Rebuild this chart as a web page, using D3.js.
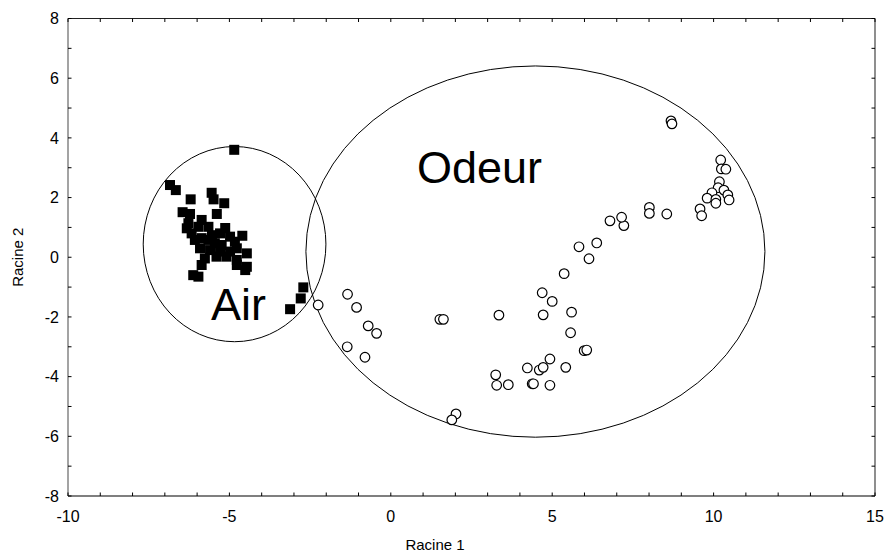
<!DOCTYPE html>
<html>
<head>
<meta charset="utf-8">
<script src="https://cdn.jsdelivr.net/npm/d3@7"></script>
<style>
  body { margin: 0; background: #fff; }
  svg { display: block; font-family: "Liberation Sans", Arial, sans-serif; }
</style>
</head>
<body>
<svg id="chart" width="887" height="556"></svg>
<script>
// ---- data ----
const xDomain = [-10, 15];
const yDomain = [-8, 8];
const xTickLabels = [-10, -5, 0, 5, 10, 15];
const yTickLabels = [-8, -6, -4, -2, 0, 2, 4, 6, 8];
const xTitle = "Racine 1";
const yTitle = "Racine 2";

// Group "Air" (filled squares)
const airX = [-4.85, -6.84, -6.66, -6.20, -5.55, -5.49, -5.16, -6.45, -6.22, -5.39,
  -6.27, -5.86, -6.32, -6.17, -5.96, -5.65, -5.29, -4.98, -4.60, -5.86,
  -5.65, -5.45, -5.24, -4.83, -5.91, -5.60, -5.29, -4.98, -4.77, -4.46,
  -5.76, -5.40, -5.09, -4.77, -5.86, -4.77, -4.46, -4.51, -6.12, -5.96,
  -5.54, -5.13, -6.07, -2.71, -2.79, -3.12];
const airY = [3.60, 2.42, 2.25, 1.94, 2.16, 1.94, 1.81, 1.51, 1.45, 1.45,
  1.14, 1.25, 0.97, 0.80, 1.02, 1.02, 0.80, 0.69, 0.72, 0.64,
  0.58, 0.47, 0.41, 0.52, 0.30, 0.24, 0.19, 0.19, 0.30, 0.13,
  -0.04, 0.02, 0.02, -0.09, -0.26, -0.26, -0.32, -0.43, -0.60, -0.65,
  0.74, 0.98, 0.58, -1.01, -1.38, -1.74];

// Group "Odeur" (open circles)
const odeurX = [-2.25, -1.34, -1.06, -0.70, -0.44, -1.35, -0.80, 1.52, 1.63, 3.35,
  4.69, 5.00, 4.72, 5.60, 5.57, 4.93, 5.42, 4.23, 4.60, 4.72,
  3.25, 3.28, 3.64, 4.38, 4.42, 4.93, 2.02, 1.89, 5.99, 6.07,
  5.37, 6.14, 5.83, 6.38, 6.79, 7.22, 7.15, 8.01, 8.01, 8.55,
  9.58, 9.63, 8.68, 8.71, 10.22, 10.24, 10.38, 10.18, 10.14, 10.32,
  9.95, 9.80, 10.07, 10.07, 10.44, 10.48];
const odeurY = [-1.60, -1.24, -1.68, -2.30, -2.55, -3.00, -3.35, -2.08, -2.08, -1.94,
  -1.19, -1.48, -1.93, -1.84, -2.53, -3.41, -3.69, -3.71, -3.78, -3.69,
  -3.94, -4.29, -4.27, -4.24, -4.24, -4.29, -5.25, -5.45, -3.13, -3.11,
  -0.55, -0.05, 0.35, 0.48, 1.22, 1.06, 1.34, 1.67, 1.47, 1.45,
  1.62, 1.39, 4.57, 4.47, 3.26, 2.96, 2.95, 2.53, 2.33, 2.25,
  2.16, 1.98, 1.94, 1.81, 2.09, 1.92];

// Group ellipses: name, centre, radii (data units), label position
const groupNames = ["Air", "Odeur"];
const ellipseCx = [-4.84, 4.48];
const ellipseCy = [0.44, 0.19];
const ellipseRx = [2.83, 7.11];
const ellipseRy = [3.27, 6.22];
const labelX = [-5.57, 0.81];
const labelY = [-2.10, 2.48];

// ---- layout ----
const margin = {left: 68, top: 18.5, right: 12, bottom: 60};
const W = 887, H = 556;
const pw = 807, ph = 477.5;

const svg = d3.select("#chart");
const g = svg.append("g").attr("transform", `translate(${margin.left},${margin.top})`);

const x = d3.scaleLinear().domain(xDomain).range([0, pw]);
const y = d3.scaleLinear().domain(yDomain).range([ph, 0]);

// ellipses
g.selectAll("ellipse.grp").data(groupNames).join("ellipse")
  .attr("class", "grp")
  .attr("cx", (d, i) => x(ellipseCx[i]))
  .attr("cy", (d, i) => y(ellipseCy[i]))
  .attr("rx", (d, i) => x(ellipseCx[i] + ellipseRx[i]) - x(ellipseCx[i]))
  .attr("ry", (d, i) => y(ellipseCy[i]) - y(ellipseCy[i] + ellipseRy[i]))
  .attr("fill", "none")
  .attr("stroke", "#000")
  .attr("stroke-width", 1);

// group labels
g.selectAll("text.grp").data(groupNames).join("text")
  .attr("class", "grp")
  .attr("x", (d, i) => x(labelX[i]))
  .attr("y", (d, i) => y(labelY[i]))
  .attr("font-size", 45)
  .attr("fill", "#000")
  .text(d => d);

// points: Odeur circles
const sq = 10;
g.selectAll("circle.od").data(odeurX).join("circle")
  .attr("class", "od")
  .attr("cx", (d) => x(d))
  .attr("cy", (d, i) => y(odeurY[i]))
  .attr("r", 4.8)
  .attr("fill", "#fff")
  .attr("stroke", "#000")
  .attr("stroke-width", 1.2);

// Air squares
g.selectAll("rect.air").data(airX).join("rect")
  .attr("class", "air")
  .attr("x", (d) => x(d) - sq / 2)
  .attr("y", (d, i) => y(airY[i]) - sq / 2)
  .attr("width", sq)
  .attr("height", sq)
  .attr("fill", "#000");

// ---- axes ----
const xMinor = d3.range(xDomain[0], xDomain[1] + 1, 1);
const yMinor = d3.range(yDomain[0], yDomain[1] + 1, 1);
const tl = 3.5;

function axisLine(x1, y1, x2, y2, col) {
  g.append("line").attr("x1", x1).attr("y1", y1).attr("x2", x2).attr("y2", y2)
    .attr("stroke", col).attr("stroke-width", 1.2);
}
// frame
axisLine(0, ph, pw, ph, "#000");
axisLine(0, 0, pw, 0, "#222");
axisLine(0, 0, 0, ph, "#666");
axisLine(pw, 0, pw, ph, "#444");

// ticks (inward), bottom & top
g.selectAll("line.xtb").data(xMinor).join("line").attr("class", "xtb")
  .attr("x1", d => x(d)).attr("x2", d => x(d)).attr("y1", ph).attr("y2", ph - tl)
  .attr("stroke", "#000").attr("stroke-width", 1);
g.selectAll("line.xtt").data(xMinor).join("line").attr("class", "xtt")
  .attr("x1", d => x(d)).attr("x2", d => x(d)).attr("y1", 0).attr("y2", tl)
  .attr("stroke", "#000").attr("stroke-width", 1);
g.selectAll("line.ytl").data(yMinor).join("line").attr("class", "ytl")
  .attr("y1", d => y(d)).attr("y2", d => y(d)).attr("x1", 0).attr("x2", tl)
  .attr("stroke", "#000").attr("stroke-width", 1);
g.selectAll("line.ytr").data(yMinor).join("line").attr("class", "ytr")
  .attr("y1", d => y(d)).attr("y2", d => y(d)).attr("x1", pw).attr("x2", pw - tl)
  .attr("stroke", "#000").attr("stroke-width", 1);

// tick labels
g.selectAll("text.xl").data(xTickLabels).join("text").attr("class", "xl")
  .attr("x", d => x(d)).attr("y", ph + 25.5)
  .attr("text-anchor", "middle").attr("font-size", 16).attr("fill", "#000")
  .text(d => d);
g.selectAll("text.yl").data(yTickLabels).join("text").attr("class", "yl")
  .attr("x", -9).attr("y", d => y(d)).attr("dy", "0.36em")
  .attr("text-anchor", "end").attr("font-size", 16).attr("fill", "#000")
  .text(d => d);

// axis titles
svg.append("text")
  .attr("x", 435).attr("y", 550)
  .attr("text-anchor", "middle").attr("font-size", 15).attr("fill", "#000")
  .text(xTitle);
svg.append("text")
  .attr("transform", `translate(23,${margin.top + ph / 2}) rotate(-90)`)
  .attr("text-anchor", "middle").attr("font-size", 15).attr("fill", "#000")
  .text(yTitle);
</script>
</body>
</html>
